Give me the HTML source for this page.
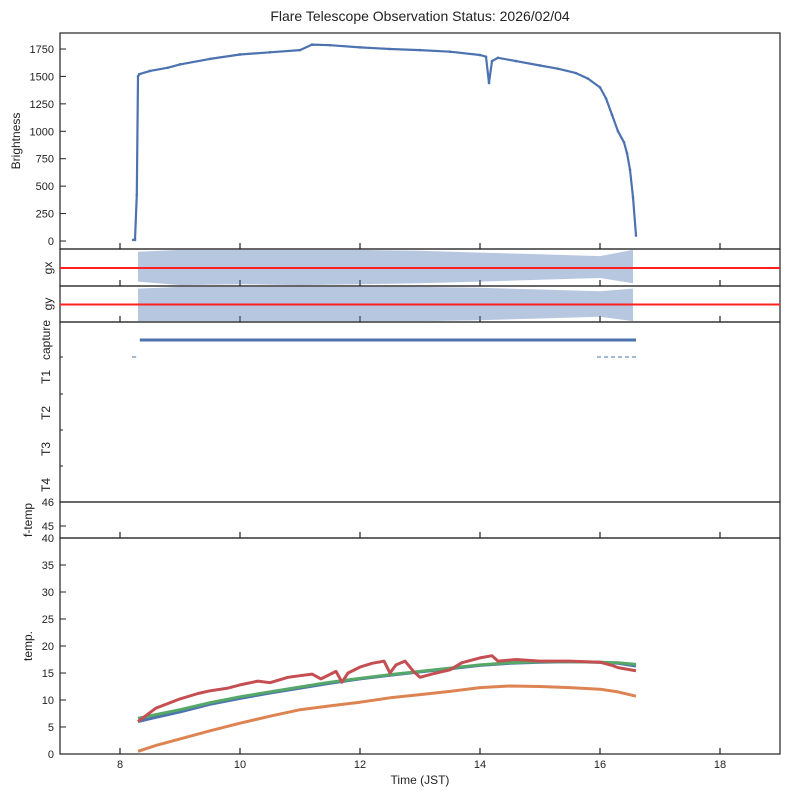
<!DOCTYPE html>
<html><head><meta charset="utf-8"><style>
body{margin:0;background:#fff;}
svg{display:block;font-family:"Liberation Sans",sans-serif;}
</style></head><body>
<svg id="fig" width="789" height="798" viewBox="0 0 789 798">
<rect width="789" height="798" fill="#fff"/>
<text x="420" y="21" text-anchor="middle" font-size="14" fill="#222">Flare Telescope Observation Status: 2026/02/04</text>
<g id="g"></g>
</svg>
<script>
// ---- data ----
const xTicks = [8,10,12,14,16,18];
const brightTicks = [0,250,500,750,1000,1250,1500,1750];
const brightT = [8.22,8.25,8.28,8.3,8.32,8.5,8.8,9,9.5,10,10.5,11,11.2,11.5,12,12.5,13,13.5,14,14.1,14.15,14.2,14.3,14.6,15,15.3,15.6,15.8,16,16.1,16.2,16.3,16.4,16.45,16.5,16.55,16.6];
const brightV = [10,10,420,1500,1520,1550,1580,1610,1660,1700,1720,1740,1790,1785,1765,1750,1740,1725,1695,1680,1440,1640,1670,1640,1600,1570,1530,1480,1400,1300,1150,1000,900,800,650,400,50];
const gxT = [8.3,9,10,11,12,13,14,15,16,16.55];
const gxLo = [-0.8,-1,-0.95,-1,-0.95,-0.9,-0.8,-0.7,-0.6,-0.9];
const gxHi = [0.9,1,1,1,1,0.95,0.85,0.75,0.65,1];
const gyLo = [-1,-1,-1,-1,-1,-1,-0.95,-0.85,-0.75,-1];
const gyHi = [0.9,1,1,1,1,1,0.95,0.85,0.75,0.9];
const captureT = [8.33,16.6];
const tempTicks = [0,5,10,15,20,25,30,35,40];
const tempT = [8.3,8.6,9,9.5,10,10.5,11,11.5,12,12.5,13,13.5,14,14.5,15,15.5,16,16.3,16.6];
const tempBlue = [6,6.8,7.8,9.2,10.3,11.3,12.2,13.1,13.9,14.6,15.2,15.8,16.4,16.8,17,17.1,17,16.8,16.3];
const tempGreen = [6.6,7.3,8.2,9.5,10.6,11.5,12.4,13.3,14,14.7,15.3,15.9,16.5,16.9,17.1,17.1,17,16.9,16.6];
const tempOrange = [0.5,1.6,2.8,4.3,5.7,7,8.2,8.9,9.6,10.4,11,11.6,12.3,12.6,12.5,12.3,12,11.5,10.7];
const redT = [8.3,8.6,9,9.3,9.5,9.8,10,10.3,10.5,10.8,11,11.2,11.35,11.6,11.7,11.8,12,12.2,12.4,12.5,12.6,12.75,12.9,13,13.2,13.5,13.7,14,14.2,14.3,14.6,15,15.5,16,16.2,16.3,16.6];
const tempRed = [6,8.5,10.2,11.2,11.7,12.2,12.8,13.5,13.2,14.2,14.5,14.8,13.9,15.3,13.3,15,16.1,16.8,17.2,15,16.5,17.2,15.2,14.2,14.8,15.6,16.9,17.8,18.2,17.2,17.5,17.2,17.2,17,16.4,16,15.4];

// ---- axes ----
const NS="http://www.w3.org/2000/svg";
const G=document.getElementById('g');
const L=60,R=780;
const xs=t=>L+(t-7)*(R-L)/12;
function el(tag,attrs,parent){const e=document.createElementNS(NS,tag);for(const k in attrs)e.setAttribute(k,attrs[k]);(parent||G).appendChild(e);return e;}
function txt(x,y,s,anchor,size,rot){const e=el('text',{x:x,y:y,'text-anchor':anchor,'font-size':size,fill:'#222'});if(rot)e.setAttribute('transform','rotate(-90 '+x+' '+y+')');e.textContent=s;return e;}
function path(pts){return pts.map((p,i)=>(i?'L':'M')+p[0].toFixed(1)+' '+p[1].toFixed(1)).join(' ');}

const panels=[[33,249,'brightness-panel'],[249,286,'gx-panel'],[286,322,'gy-panel'],[322,502,'status-panel'],[502,538,'ftemp-panel'],[538,754,'temp-panel']];
panels.forEach(p=>{const r=el('rect',{x:L,y:p[0],width:R-L,height:p[1]-p[0],fill:'none',stroke:'#222','stroke-width':1.2});
});
[249,286,322,538,754].forEach(yb=>{xTicks.forEach(t=>{el('line',{x1:xs(t),x2:xs(t),y1:yb,y2:yb-6,stroke:'#222','stroke-width':1.2});});});
xTicks.forEach(t=>{const e=txt(xs(t),768,String(t),'middle',11);});
const xt=txt(420,784,'Time (JST)','middle',12);

// brightness
const by=v=>241-v*192/1750;
brightTicks.forEach(v=>{el('line',{x1:L,x2:L+6,y1:by(v),y2:by(v),stroke:'#222'});const e=txt(54,by(v)+4,String(v),'end',11);});
const bt=txt(20,141,'Brightness','middle',12,true);
const bl=el('path',{d:path(brightT.map((t,i)=>[xs(t),by(brightV[i])])),fill:'none',stroke:'#4c72b0','stroke-width':2.2,'stroke-linejoin':'round'});

brightT.forEach((t,i)=>{const c=el('circle',{cx:xs(t),cy:by(brightV[i]),r:1.3,fill:'#4c72b0'});});

// gx / gy bands
function band(y0,y1,lo,hi,name){const mid=(y0+y1)/2,h=(y1-y0)/2*0.95;
 const top=gxT.map((t,i)=>[xs(t),mid-hi[i]*h]);const bot=gxT.map((t,i)=>[xs(t),mid-lo[i]*h]).reverse();
 const p=el('path',{d:path(top.concat(bot))+' Z',fill:'#4c72b0','fill-opacity':0.4});
 const ln=el('line',{x1:L,x2:R,y1:mid+0.5,y2:mid+0.5,stroke:'#ff2020','stroke-width':2});}
band(249,286,gxLo,gxHi,'gx-scatter');
band(286,322,gyLo,gyHi,'gy-scatter');
const gxl=txt(52,268,'gx','middle',12,true);
const gyl=txt(52,304,'gy','middle',12,true);

// status panel
[['capture',340],['T1',377],['T2',413],['T3',449],['T4',485]].forEach(a=>{const e=txt(50,a[1],a[0],'middle',12,true);el('line',{x1:L,x2:L+3,y1:a[1]+17,y2:a[1]+17,stroke:'#222'});});
const cap=el('line',{x1:xs(captureT[0]),x2:xs(captureT[1]),y1:340,y2:340,stroke:'#4c72b0','stroke-width':3});
el('line',{x1:xs(15.95),x2:xs(16.6),y1:357,y2:357,stroke:'#4c72b0','stroke-width':1,'stroke-dasharray':'4 3'});
el('line',{x1:xs(8.2),x2:xs(8.27),y1:357,y2:357,stroke:'#4c72b0','stroke-width':1});

// f-temp
[[46,502],[45,526],[40,538]].forEach(a=>{el('line',{x1:L,x2:L+6,y1:a[1],y2:a[1],stroke:'#222'});const e=txt(54,a[1]+4,String(a[0]),'end',11);});
const ft=txt(32,520,'f-temp','middle',12,true);

// temp
const ty=v=>754-v*5.4;
tempTicks.forEach(v=>{if(v<40){el('line',{x1:L,x2:L+6,y1:ty(v),y2:ty(v),stroke:'#222'});const e=txt(54,ty(v)+4,String(v),'end',11);}});
const tt=txt(32,646,'temp.','middle',12,true);
[[tempT,tempBlue,'#4c72b0','temp-blue-series'],[tempT,tempGreen,'#55a868','temp-green-series'],[tempT,tempOrange,'#dd8452','temp-orange-series'],[redT,tempRed,'#c44e52','temp-red-series']].forEach(s=>{
 const p=el('path',{d:path(s[0].map((t,i)=>[xs(t),ty(s[1][i])])),fill:'none',stroke:s[2],'stroke-width':3,'stroke-linejoin':'round'});
 });
</script>
</body></html>
